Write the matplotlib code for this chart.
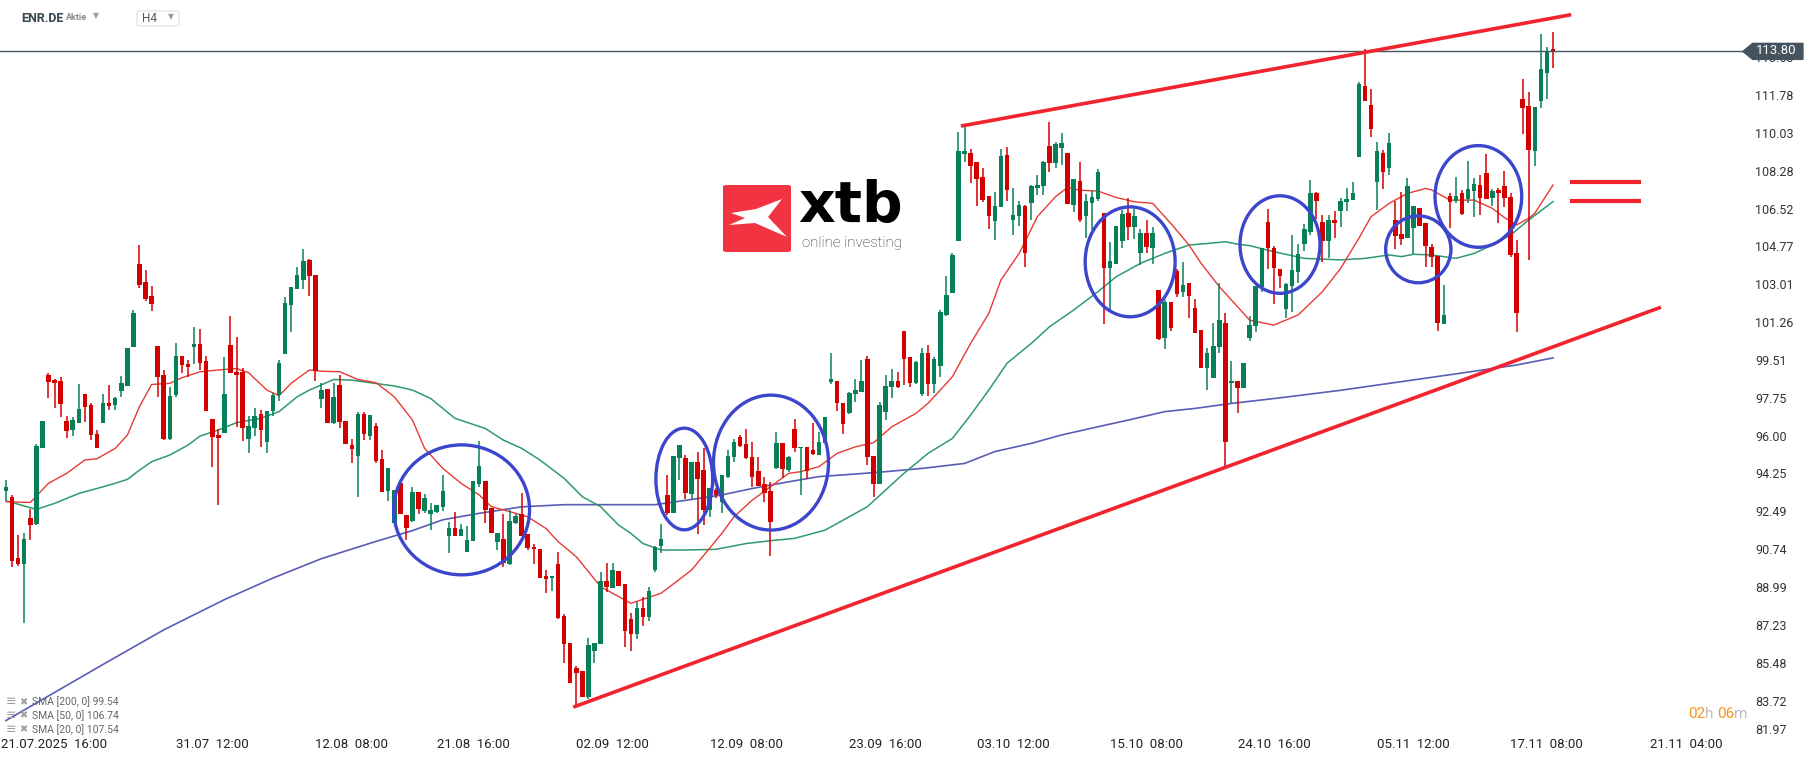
import numpy as np
import matplotlib.pyplot as plt
from matplotlib.patches import Ellipse, Polygon, FancyBboxPatch

plt.rcParams['font.family'] = ['Roboto', 'DejaVu Sans']

# H4 candles, oldest first
opens = [93.43, 93.17, 90.33, 90.03, 92.18, 91.90, 95.44, 98.80, 98.57, 98.53,
         96.67, 96.26, 96.60, 97.92, 97.41, 96.07, 96.60, 97.51, 97.41, 98.08,
         98.31, 100.12, 103.95, 103.11, 102.46, 100.15, 98.80, 95.84, 97.88, 99.68,
         99.31, 100.12, 100.24, 99.45, 96.77, 96.03, 96.13, 100.19, 98.93, 98.93,
         95.84, 96.36, 97.00, 95.72, 97.14, 97.88, 99.78, 102.05, 102.79, 103.20,
         104.13, 103.44, 97.69, 98.16, 96.60, 98.34, 96.67, 95.56, 95.07, 97.00,
         95.98, 96.44, 94.91, 93.45, 91.97, 93.82, 92.32, 92.04, 93.39, 92.52,
         92.35, 92.48, 92.71, 91.36, 91.72, 91.36, 90.62, 91.13, 93.76, 93.90,
         92.66, 91.09, 91.21, 90.04, 91.97, 92.37, 91.44, 90.85, 90.75, 89.50,
         89.39, 90.05, 87.66, 86.38, 85.22, 85.10, 83.91, 86.04, 86.33, 89.26,
         88.92, 89.74, 89.13, 87.50, 86.80, 88.00, 87.60, 89.77, 90.88, 93.25,
         92.43, 94.94, 94.98, 93.29, 94.76, 94.40, 92.55, 93.48, 92.94, 94.10,
         94.99, 95.92, 95.59, 95.01, 94.36, 93.76, 93.43, 94.51, 95.64, 94.40,
         96.29, 95.41, 95.48, 95.33, 95.10, 95.64, 98.50, 98.53, 97.52, 97.03,
         97.92, 98.03, 99.53, 95.05, 93.76, 97.11, 98.23, 98.53, 100.84, 99.65,
         98.45, 97.91, 99.81, 98.37, 99.24, 101.58, 102.59, 105.03, 109.03, 109.07,
         108.66, 107.99, 107.10, 105.95, 106.60, 109.00, 105.99, 106.17, 106.65, 106.79,
         107.48, 107.56, 109.41, 108.64, 109.34, 109.10, 106.68, 107.81, 106.17, 106.79,
         106.94, 106.29, 103.78, 103.95, 105.03, 106.29, 105.65, 104.47, 105.37, 104.70,
         102.74, 100.50, 102.20, 103.62, 102.67, 103.05, 101.89, 100.89, 99.11, 98.68,
         100.12, 101.20, 98.42, 98.53, 98.19, 100.51, 101.08, 102.90, 105.91, 104.71,
         103.72, 101.85, 102.95, 103.60, 104.86, 105.45, 107.25, 105.88, 105.03, 105.99,
         106.42, 106.84, 106.91, 108.92, 112.19, 111.32, 107.73, 109.11, 108.38, 105.99,
         105.34, 105.17, 105.63, 106.53, 105.86, 104.75, 104.32, 101.16, 107.10, 106.88,
         107.25, 106.96, 107.35, 107.61, 108.18, 107.02, 107.38, 107.56, 107.07, 104.44,
         111.59, 111.27, 109.18, 111.50, 112.81, 113.91]
highs = [93.94, 93.25, 91.39, 91.47, 92.58, 95.60, 96.67, 98.91, 98.60, 98.71,
         96.90, 96.87, 98.39, 97.92, 97.49, 96.26, 97.92, 98.34, 97.80, 98.76,
         100.05, 101.82, 104.83, 103.67, 102.93, 100.15, 99.04, 98.26, 100.27, 99.68,
         99.50, 101.04, 100.93, 99.68, 96.77, 96.30, 99.65, 101.54, 100.58, 99.14,
         96.90, 97.26, 97.18, 97.14, 97.99, 99.50, 102.43, 102.90, 103.82, 104.64,
         104.18, 103.44, 98.42, 98.16, 98.42, 98.80, 96.67, 95.83, 97.11, 97.11,
         96.95, 96.57, 95.33, 94.51, 93.48, 93.82, 92.32, 93.63, 93.39, 93.29,
         92.86, 92.77, 94.17, 91.98, 92.46, 91.89, 91.83, 93.90, 95.75, 93.90,
         92.66, 91.50, 92.37, 92.55, 92.35, 93.32, 91.44, 90.96, 90.75, 89.77,
         89.50, 90.59, 87.72, 86.38, 85.33, 85.10, 86.61, 86.38, 89.67, 90.08,
         90.08, 89.74, 89.13, 87.80, 88.30, 88.50, 89.00, 90.90, 91.90, 94.17,
         95.05, 95.56, 95.10, 94.76, 95.25, 95.44, 93.55, 93.55, 94.17, 95.33,
         95.84, 96.03, 96.29, 95.70, 94.99, 94.10, 93.86, 96.15, 95.64, 95.05,
         96.77, 95.48, 95.48, 96.57, 96.15, 96.87, 99.84, 98.53, 97.52, 98.03,
         98.60, 99.50, 99.68, 95.05, 97.57, 98.80, 99.07, 98.96, 100.84, 99.65,
         99.45, 100.04, 100.19, 99.65, 101.82, 103.41, 104.44, 110.08, 110.31, 109.26,
         108.66, 108.38, 107.10, 107.30, 109.27, 109.35, 107.45, 106.87, 106.68, 107.59,
         108.07, 108.72, 110.51, 109.61, 110.00, 109.10, 107.88, 108.69, 107.17, 107.34,
         108.33, 106.29, 104.98, 105.72, 106.45, 106.99, 106.48, 105.57, 105.99, 105.68,
         102.74, 102.28, 102.20, 103.70, 104.02, 103.05, 102.31, 100.89, 100.04, 101.20,
         103.05, 101.66, 99.47, 98.53, 99.35, 101.54, 102.93, 104.71, 106.50, 104.80,
         103.72, 103.05, 105.29, 104.88, 105.80, 107.84, 107.30, 106.22, 106.22, 106.42,
         107.02, 107.49, 107.76, 112.36, 113.91, 112.06, 109.59, 109.23, 110.03, 106.88,
         107.30, 107.92, 106.64, 106.56, 105.86, 104.88, 104.32, 102.98, 107.22, 107.96,
         107.38, 108.72, 107.92, 108.07, 109.04, 107.41, 107.45, 108.26, 107.22, 105.06,
         112.52, 111.93, 111.21, 114.60, 114.02, 114.71]
lows = [93.00, 89.90, 89.96, 87.33, 91.16, 91.86, 95.44, 97.75, 97.29, 96.87,
        95.90, 95.99, 96.60, 96.64, 95.79, 95.44, 96.60, 97.18, 97.18, 97.80,
        98.31, 100.12, 102.86, 102.25, 101.78, 97.80, 95.79, 95.79, 97.80, 98.88,
        98.73, 99.34, 99.04, 97.15, 94.56, 92.78, 96.13, 98.91, 96.41, 95.75,
        95.21, 95.99, 95.48, 95.21, 96.92, 97.62, 99.78, 100.81, 102.79, 102.79,
        102.48, 98.54, 97.26, 96.60, 96.52, 96.33, 95.59, 94.74, 93.14, 95.79,
        95.79, 94.74, 93.40, 92.98, 91.97, 92.37, 91.16, 91.98, 92.37, 92.43,
        91.63, 92.40, 92.52, 90.58, 91.36, 91.36, 90.62, 91.13, 93.60, 91.93,
        91.50, 90.70, 89.93, 89.99, 91.90, 91.36, 90.70, 90.05, 89.42, 88.69,
        88.80, 87.50, 85.45, 84.52, 83.44, 83.91, 83.78, 85.48, 86.33, 88.74,
        88.92, 89.05, 86.19, 86.00, 86.60, 87.20, 87.40, 89.70, 90.58, 92.32,
        92.43, 93.94, 93.05, 93.05, 91.42, 91.86, 92.21, 93.09, 92.40, 94.02,
        94.79, 95.48, 94.90, 93.60, 93.66, 92.94, 90.42, 94.43, 94.02, 94.33,
        95.25, 93.25, 93.97, 95.10, 95.10, 95.64, 98.39, 97.15, 96.06, 97.00,
        97.57, 98.00, 94.64, 93.17, 93.76, 96.72, 97.72, 98.19, 98.34, 98.23,
        98.37, 97.83, 97.83, 97.96, 98.73, 101.55, 102.59, 105.03, 108.69, 107.71,
        106.63, 106.80, 105.55, 105.06, 106.60, 106.88, 105.29, 105.71, 103.82, 105.99,
        107.14, 107.14, 108.22, 108.38, 108.53, 106.73, 106.37, 105.91, 105.14, 105.52,
        106.88, 101.15, 101.82, 103.95, 104.67, 105.06, 105.09, 103.90, 104.44, 103.93,
        100.43, 99.99, 100.86, 102.40, 102.44, 101.43, 100.77, 99.11, 98.11, 98.68,
        99.81, 94.59, 97.52, 97.06, 98.19, 100.38, 100.82, 102.67, 103.72, 102.08,
        102.82, 101.43, 101.74, 103.09, 104.57, 105.29, 106.03, 104.06, 104.24, 105.14,
        105.68, 106.41, 106.91, 108.92, 111.52, 109.85, 106.45, 107.42, 108.07, 104.64,
        104.83, 105.17, 104.40, 105.71, 103.83, 103.83, 100.86, 101.16, 105.63, 106.79,
        106.22, 106.76, 106.11, 106.22, 106.96, 106.64, 105.86, 106.61, 104.29, 100.82,
        109.96, 104.14, 108.50, 111.19, 111.60, 113.04]
closes = [93.62, 90.20, 90.05, 91.21, 91.87, 95.52, 96.67, 98.50, 98.45, 97.48,
          96.23, 96.72, 97.23, 97.34, 96.04, 95.44, 97.51, 97.38, 97.74, 98.43,
          100.05, 101.68, 102.99, 102.32, 102.11, 98.73, 95.84, 97.83, 99.68, 99.27,
          99.19, 100.24, 99.37, 97.15, 95.95, 95.90, 97.95, 98.91, 98.80, 96.36,
          96.44, 96.90, 96.26, 97.14, 97.88, 99.37, 102.15, 102.90, 103.44, 104.08,
          103.40, 98.99, 98.11, 96.60, 97.77, 96.61, 95.59, 95.36, 97.00, 96.06,
          96.95, 94.84, 93.40, 94.51, 93.48, 92.37, 91.73, 93.39, 92.58, 93.11,
          92.55, 92.77, 93.43, 91.72, 91.36, 91.67, 91.16, 93.90, 94.59, 92.55,
          91.50, 91.50, 90.08, 92.03, 92.29, 91.36, 90.78, 90.73, 89.42, 89.37,
          89.50, 87.57, 86.33, 84.52, 85.02, 83.91, 86.30, 86.38, 89.26, 89.00,
          89.77, 89.05, 86.96, 86.80, 88.00, 87.60, 88.80, 90.85, 91.19, 92.40,
          95.05, 95.56, 93.35, 94.76, 93.97, 92.55, 93.55, 93.25, 94.17, 95.05,
          95.69, 95.53, 94.98, 94.06, 93.66, 93.35, 92.01, 95.64, 94.47, 94.99,
          95.41, 95.48, 94.37, 95.15, 95.69, 96.87, 98.60, 97.49, 96.52, 97.99,
          98.11, 98.53, 95.02, 93.76, 97.42, 98.30, 98.53, 98.23, 99.53, 98.45,
          99.39, 99.81, 98.37, 99.53, 101.71, 102.51, 104.36, 109.20, 109.20, 108.50,
          107.88, 106.91, 106.19, 106.63, 108.96, 107.37, 106.22, 106.68, 104.47, 107.56,
          107.61, 108.69, 108.64, 109.49, 109.54, 106.73, 107.88, 105.99, 106.87, 107.07,
          108.22, 103.78, 104.09, 105.72, 106.26, 105.68, 106.17, 105.37, 104.75, 105.37,
          100.47, 102.20, 100.97, 102.56, 102.97, 102.48, 100.77, 99.11, 99.81, 100.15,
          101.35, 95.72, 98.53, 98.19, 99.35, 101.12, 102.93, 104.71, 104.68, 103.75,
          103.41, 103.01, 103.67, 104.41, 105.57, 107.22, 106.88, 105.03, 105.99, 105.87,
          106.87, 106.96, 107.25, 112.29, 111.52, 110.20, 109.18, 108.23, 109.57, 105.25,
          105.11, 107.56, 106.64, 105.71, 104.80, 104.26, 101.23, 101.59, 106.84, 107.10,
          106.27, 107.42, 107.66, 106.99, 106.96, 107.33, 107.25, 107.02, 104.37, 101.67,
          111.19, 109.23, 111.21, 112.98, 113.83, 113.82]

# moving averages (candle index, value)
sma20_at = [0, 4, 7, 10, 13, 15, 18, 20, 22, 24, 27, 29, 32, 35, 38, 40, 43, 45, 47, 50,
            52, 55, 58, 61, 64, 67, 69, 72, 75, 78, 80, 83, 86, 89, 91, 94, 96, 98, 101, 103,
            108, 113, 118, 120, 123, 126, 129, 131, 134, 137, 140, 143, 146, 150, 152, 154, 156, 159, 162, 164,
            167, 170, 173, 175, 177, 180, 183, 186, 189, 192, 195, 197, 200, 203, 205, 209, 213, 217, 220, 223,
            225, 228, 231, 234, 235, 238, 242, 245, 247, 249, 251, 252, 255]
sma20_val = [92.94, 92.90, 93.79, 94.25, 94.87, 94.93, 95.41, 96.02, 97.34, 98.37, 98.42, 98.68, 98.96, 99.04, 99.11, 98.91, 98.11, 97.85, 98.42, 99.04,
             98.98, 98.96, 98.60, 98.45, 97.80, 96.72, 95.41, 94.48, 93.79, 93.25, 92.71, 92.48, 92.24, 91.70, 91.09, 90.39, 89.70, 89.00, 88.54, 88.23,
             88.70, 89.77, 91.47, 92.24, 93.01, 93.63, 94.25, 94.33, 94.56, 95.18, 95.48, 95.67, 96.41, 97.03, 97.50, 98.11, 98.73, 100.27, 101.66, 103.21,
             104.44, 106.14, 107.07, 107.50, 107.37, 107.33, 107.03, 106.83, 106.76, 105.83, 104.83, 103.98, 102.90, 101.97, 101.35, 101.12, 101.59, 102.67, 103.75, 105.14,
             106.14, 106.76, 107.22, 107.45, 107.38, 106.91, 106.91, 106.53, 106.10, 105.76, 106.07, 106.30, 107.61]
sma50_at = [0, 5, 8, 12, 15, 18, 20, 22, 24, 27, 30, 32, 35, 38, 42, 45, 48, 50, 52, 54,
            57, 60, 64, 67, 70, 74, 79, 82, 85, 88, 92, 95, 98, 101, 103, 105, 108, 112, 117, 122,
            126, 130, 135, 139, 142, 145, 148, 152, 156, 159, 162, 165, 169, 172, 176, 180, 183, 187, 191, 195,
            198, 201, 203, 205, 209, 214, 220, 224, 228, 230, 232, 235, 239, 242, 245, 248, 251, 255]
sma50_val = [92.98, 92.58, 92.86, 93.32, 93.55, 93.79, 93.97, 94.40, 94.79, 95.10, 95.56, 95.98, 96.26, 96.60, 96.80, 97.11, 97.80, 98.11, 98.35, 98.60,
             98.57, 98.45, 98.30, 98.11, 97.72, 96.80, 96.33, 95.79, 95.41, 94.87, 94.02, 93.17, 92.71, 91.85, 91.47, 91.00, 90.70, 90.70, 90.73, 91.00,
             91.13, 91.24, 91.62, 92.24, 92.71, 93.48, 94.25, 95.18, 95.87, 96.95, 98.11, 99.35, 100.27, 101.04, 101.82, 102.67, 103.36, 103.98, 104.44, 104.83,
             104.90, 104.98, 104.87, 104.80, 104.52, 104.21, 104.14, 104.21, 104.37, 104.29, 104.40, 104.37, 104.21, 104.44, 104.83, 105.29, 105.99, 106.84]
sma200_at = [0, 8, 16, 26, 36, 44, 52, 61, 67, 72, 78, 85, 92, 100, 107, 112, 118, 123, 129, 134,
             140, 145, 151, 158, 163, 169, 174, 180, 185, 191, 196, 202, 210, 220, 230, 240, 249, 255]
sma200_val = [82.80, 84.10, 85.40, 87.00, 88.40, 89.40, 90.30, 91.10, 91.60, 92.10, 92.40, 92.70, 92.80, 92.80, 92.80, 93.00, 93.25, 93.55, 93.86, 94.10,
              94.22, 94.33, 94.48, 94.71, 95.26, 95.64, 96.03, 96.41, 96.72, 97.11, 97.26, 97.49, 97.75, 98.10, 98.50, 98.90, 99.27, 99.60]

# hand drawn marks: (centre index, centre price, width in candles, height in price)
circles = [(75.1, 92.56, 22.4, 6.02), (111.8, 93.99, 9.35, 4.71), (126.1, 94.75, 18.96, 6.25),
           (185.3, 104.05, 14.83, 5.09), (210.0, 104.85, 13.19, 4.52), (232.8, 104.63, 10.76, 3.10),
           (242.7, 107.08, 14.29, 4.71)]
trend_upper = ([157.4, 258.0], [110.34, 115.50])
trend_lower = ([93.5, 272.8], [83.42, 101.95])
equal_sign = ([257.8, 269.5], [107.76, 106.85])
last_price = 113.80

price_ticks = [113.53, 111.78, 110.03, 108.28, 106.52, 104.77, 103.01, 101.26, 99.51, 97.75,
               96.00, 94.25, 92.49, 90.74, 88.99, 87.23, 85.48, 83.72]
date_pos = [8, 34, 57, 77, 100, 122, 145, 166, 188, 209, 232, 254, 277]
date_labels = ['21.07.2025  16:00', '31.07  12:00', '12.08  08:00', '21.08  16:00', '02.09  12:00',
               '12.09  08:00', '23.09  16:00', '03.10  12:00', '15.10  08:00', '24.10  16:00',
               '05.11  12:00', '17.11  08:00', '21.11  04:00']
legend_rows = ['SMA [200, 0] 99.54', 'SMA [50, 0] 106.74', 'SMA [20, 0] 107.54']

W, H = 1815, 761
fig = plt.figure(figsize=(W / 100, H / 100), dpi=100)
ax = fig.add_axes([0, 1 - 735 / H, 1735 / W, 735 / H])
ax.set_xlim(-0.99, 285.0)
ax.set_ylim(82.13, 116.18)

o = np.array(opens); h = np.array(highs); l = np.array(lows); c = np.array(closes)
x = np.arange(len(o))
green, red = '#07805a', '#d30000'
cols = np.where(c >= o, green, red)
ax.vlines(x, l, h, colors=cols, linewidth=1.1, zorder=3)
ax.bar(x, np.maximum(np.abs(c - o), 0.07), bottom=np.minimum(o, c), width=0.74,
       color=cols, linewidth=0, zorder=4)

ax.plot(sma200_at, sma200_val, color='#5a5db5', lw=1.2, zorder=2)
ax.plot(sma50_at, sma50_val, color='#2f9a6d', lw=1.1, zorder=2)
ax.plot(sma20_at, sma20_val, color='#e63b35', lw=1.0, zorder=2)

for cx, cy, cw, ch in circles:
    ax.add_patch(Ellipse((cx, cy), cw, ch, fill=False, edgecolor='#3b46cc', lw=2.4, zorder=6))

red_line = '#f0232e'
ax.plot(*trend_upper, color=red_line, lw=2.6, zorder=6, solid_capstyle='butt')
ax.plot(*trend_lower, color=red_line, lw=2.6, zorder=6, solid_capstyle='butt')
for yv in equal_sign[1]:
    ax.plot(equal_sign[0], [yv, yv], color=red_line, lw=3.0, zorder=6, solid_capstyle='butt')

# current price line and tag
slate = '#44535e'
ax.plot([-0.99, 286.3], [last_price, last_price], color=slate, lw=1.0, zorder=5, clip_on=False)
tag = Polygon([[286.3, last_price], [287.9, last_price + 0.37], [296.2, last_price + 0.37],
               [296.2, last_price - 0.37], [287.9, last_price - 0.37]],
              closed=True, color=slate, transform=ax.transData, zorder=10)
fig.add_artist(tag)
fig.text(1776 / W, 1 - 51 / H, f'{last_price:.2f}', color='white', fontsize=9.5,
         ha='center', va='center', zorder=11)

for s in ax.spines.values():
    s.set_visible(False)
ax.yaxis.tick_right()
ax.set_yticks(price_ticks, [f'{v:.2f}' for v in price_ticks])
ax.tick_params(axis='y', length=0, pad=14.4, labelsize=9, labelcolor='#333333')
ax.set_xticks(date_pos, date_labels)
ax.tick_params(axis='x', length=0, pad=2.5, labelsize=9.5, labelcolor='#222222')
fig.text(1755 / W, 1 - 731 / H, '81.97', fontsize=9, color='#333333', va='center', ha='left')

# header
fig.text(21 / W, 1 - 18 / H, 'ENR.DE', fontsize=9, fontweight='bold', color='#37474f', va='center')
fig.text(66 / W, 1 - 18 / H, 'Aktie', fontsize=6.5, fontweight='bold', color='#8a8a8a', va='center')
fig.text(93 / W, 1 - 16 / H, '▼', fontsize=5.5, color='#9a9a9a', va='center', family='DejaVu Sans')
fig.add_artist(FancyBboxPatch((137 / W, 1 - 26 / H), 42 / W, 15 / H, boxstyle='round,pad=0,rounding_size=0.002',
                              transform=fig.transFigure, facecolor='white', edgecolor='#dddddd', lw=0.8))
fig.text(142 / W, 1 - 19 / H, 'H4', fontsize=8.5, color='#555555', va='center')
fig.text(168 / W, 1 - 17 / H, '▼', fontsize=5.5, color='#9a9a9a', va='center', family='DejaVu Sans')

# logo
fig.add_artist(FancyBboxPatch((723 / W, 1 - 252 / H), 68 / W, 67 / H, boxstyle='round,pad=0,rounding_size=0.002',
                              transform=fig.transFigure, facecolor='#f23341', edgecolor='none', zorder=7))
xmark = [(731, 213), (756, 209), (782, 199), (768, 217), (787, 237), (755, 223), (729, 225), (745, 218)]
fig.add_artist(Polygon([(px / W, 1 - py / H) for px, py in xmark], closed=True,
                       transform=fig.transFigure, facecolor='white', edgecolor='none', zorder=8))
fig.text(798 / W, 1 - 222 / H, 'xtb', fontsize=41, fontweight='bold', color='black',
         family='DejaVu Sans', va='baseline', zorder=8)
fig.text(802 / W, 1 - 247 / H, 'online investing', fontsize=10.8, fontweight='light', color='#222222',
         va='baseline', zorder=8)

# indicator legend
for k, row in enumerate(legend_rows):
    yy = 1 - (702 + 13.6 * k) / H
    fig.text(6 / W, yy, '≡', fontsize=9, color='#9e9e9e', va='center', family='DejaVu Sans')
    fig.text(19 / W, yy, '✖', fontsize=7, color='#9e9e9e', va='center', family='DejaVu Sans')
    fig.text(32 / W, yy, row, fontsize=7.5, color='#666666', va='center')

# candle countdown
orange, grey = '#f7941d', '#bdbdbd'
for txt, px, colr in [('02', 1688, orange), ('h', 1705, grey), ('06', 1717, orange), ('m', 1734, grey)]:
    fig.text(px / W, 1 - 714 / H, txt, fontsize=11, color=colr, va='center', ha='left')

fig.savefig('out.png', dpi=100, facecolor='white')
